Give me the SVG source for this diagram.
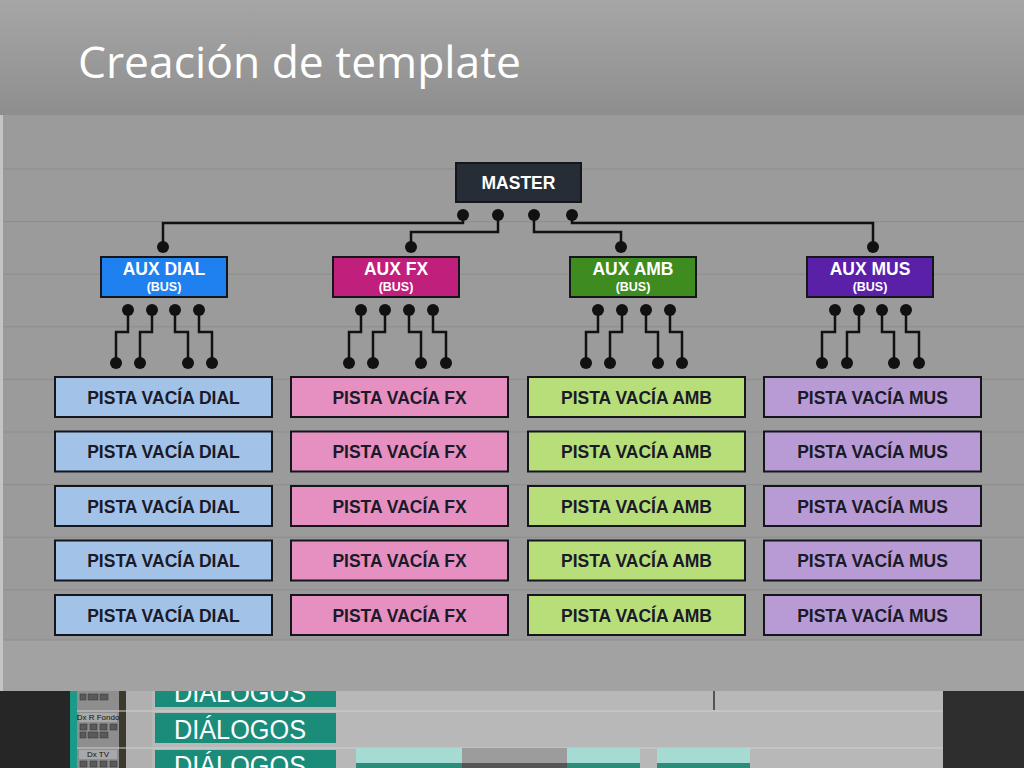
<svg xmlns="http://www.w3.org/2000/svg" width="1024" height="768" viewBox="0 0 1024 768">
<defs>
<linearGradient id="hdr" x1="0" y1="0" x2="0" y2="1">
<stop offset="0" stop-color="#a6a6a6"/>
<stop offset="1" stop-color="#8e8e8e"/>
</linearGradient>
<style>
.wire{fill:none;stroke:#111;stroke-width:2.5;stroke-linejoin:miter}
.dot{fill:#111}
.box{stroke:#15161c;stroke-width:2}
.lbl{font-family:"Liberation Sans",Arial,sans-serif;font-weight:bold;text-anchor:middle}
.pt{font-size:17.5px;fill:#1a1a28}
.aux{font-size:17.5px;fill:#fff}
.bus{font-size:12.5px;fill:#fff}
.grid{stroke:#8d8d8d;stroke-width:1}
.dlg{fill:#1b8c7a}
.dlgt{font-family:"Liberation Sans",Arial,sans-serif;font-size:27px;fill:#fff;text-anchor:middle}
.clip{fill:#a6dbd3}
.wave{fill:#2b8c7c}
.btn{fill:#5a5a5a;stroke:#333;stroke-width:0.5}
.trk{font-family:"Liberation Sans",Arial,sans-serif;font-size:8px;fill:#111}
</style>
</defs>

<!-- DAW screenshot at the bottom -->
<g id="daw">
<rect x="0" y="680" width="1024" height="88" fill="#b8b8b8"/>
<rect x="0" y="680" width="70" height="88" fill="#262626"/>
<rect x="70" y="680" width="7" height="88" fill="#1a9a88"/>
<rect x="77" y="680" width="42" height="88" fill="#8e8e8e"/>
<rect x="119" y="680" width="7" height="88" fill="#3c3a2c"/>
<rect x="126" y="680" width="26" height="88" fill="#b0b0b0"/>
<rect x="943" y="680" width="81" height="88" fill="#2e2e2e"/>
<line x1="77" y1="711" x2="943" y2="711" stroke="#cfcfcf" stroke-width="1"/>
<line x1="77" y1="748" x2="943" y2="748" stroke="#cfcfcf" stroke-width="1"/>
<line x1="714" y1="690" x2="714" y2="710" stroke="#333" stroke-width="1.5"/>
<rect class="dlg" x="155" y="680" width="181" height="27"/>
<text class="dlgt" x="240" y="702" textLength="132" lengthAdjust="spacingAndGlyphs">DIÁLOGOS</text>
<rect class="dlg" x="155" y="713" width="181" height="30"/>
<text class="dlgt" x="240" y="739" textLength="132" lengthAdjust="spacingAndGlyphs">DIÁLOGOS</text>
<rect class="dlg" x="155" y="750" width="181" height="18"/>
<text class="dlgt" x="240" y="775" textLength="132" lengthAdjust="spacingAndGlyphs">DIÁLOGOS</text>
<rect class="clip" x="356" y="748" width="106" height="20"/>
<rect x="462" y="748" width="105" height="20" fill="#9c9c9c"/>
<rect class="clip" x="567" y="748" width="73" height="20"/>
<rect class="clip" x="657" y="748" width="93" height="20"/>
<rect class="wave" x="356" y="763" width="106" height="5"/>
<rect x="462" y="763" width="105" height="5" fill="#555"/>
<rect class="wave" x="567" y="763" width="73" height="5"/>
<rect class="wave" x="657" y="763" width="93" height="5"/>
<rect class="btn" x="80" y="694" width="6" height="6"/>
<rect class="btn" x="88" y="694" width="10" height="6"/>
<rect class="btn" x="100" y="694" width="8" height="6" fill="#b55"/>
<rect x="79" y="713" width="38" height="9" fill="#a8a8a8"/>
<text class="trk" x="98" y="720" text-anchor="middle">Dx R Fondo</text>
<rect class="btn" x="80" y="724" width="7" height="6"/>
<rect class="btn" x="90" y="724" width="7" height="6"/>
<rect class="btn" x="100" y="724" width="7" height="6"/>
<rect class="btn" x="110" y="724" width="7" height="6"/>
<rect class="btn" x="80" y="732" width="6" height="6"/>
<rect class="btn" x="88" y="732" width="10" height="6"/>
<rect class="btn" x="100" y="732" width="8" height="6" fill="#b55"/>
<rect x="79" y="750" width="38" height="9" fill="#a8a8a8"/>
<text class="trk" x="98" y="757" text-anchor="middle">Dx TV</text>
<rect class="btn" x="80" y="761" width="7" height="6"/>
<rect class="btn" x="90" y="761" width="7" height="6"/>
<rect class="btn" x="100" y="761" width="7" height="6"/>
<rect class="btn" x="110" y="761" width="7" height="6"/>
</g>

<!-- diagram background -->
<rect x="0" y="115" width="1024" height="576" fill="#9b9b9b"/>
<rect x="0" y="115" width="3" height="576" fill="#c4c4c4"/>
<rect x="3" y="640" width="1021" height="51" fill="#a2a2a2"/>
<g id="gridlines">
<line class="grid" x1="3" y1="169" x2="1024" y2="169" stroke="#7c7c7c" stroke-width="1.5"/>
<line class="grid" x1="3" y1="221.6" x2="1024" y2="221.6"/>
<line class="grid" x1="3" y1="274.2" x2="1024" y2="274.2"/>
<line class="grid" x1="3" y1="326.8" x2="1024" y2="326.8"/>
<line class="grid" x1="3" y1="379.4" x2="1024" y2="379.4"/>
<line class="grid" x1="3" y1="432" x2="1024" y2="432"/>
<line class="grid" x1="3" y1="484.6" x2="1024" y2="484.6"/>
<line class="grid" x1="3" y1="537.2" x2="1024" y2="537.2"/>
<line class="grid" x1="3" y1="589.8" x2="1024" y2="589.8"/>
<line class="grid" x1="3" y1="640" x2="1024" y2="640"/>
</g>

<!-- header -->
<rect x="0" y="0" width="1024" height="115" fill="url(#hdr)"/>
<text x="78" y="78" font-family="'Open Sans','Liberation Sans',sans-serif" font-size="43" fill="#ffffff" textLength="443" lengthAdjust="spacingAndGlyphs">Creación de template</text>

<!-- connectors -->
<g id="connectors">
<path class="wire" d="M463 215V223H163V247"/>
<path class="wire" d="M498 215V232H411V247"/>
<path class="wire" d="M534 215V232H621V247"/>
<path class="wire" d="M572 215V223H873V247"/>
<circle class="dot" cx="463" cy="215" r="6"/>
<circle class="dot" cx="498" cy="215" r="6"/>
<circle class="dot" cx="534" cy="215" r="6"/>
<circle class="dot" cx="572" cy="215" r="6"/>
<circle class="dot" cx="163" cy="247" r="6"/>
<circle class="dot" cx="411" cy="247" r="6"/>
<circle class="dot" cx="621" cy="247" r="6"/>
<circle class="dot" cx="873" cy="247" r="6"/>

<!-- DIAL fan -->
<path class="wire" d="M128 310V332H116V363M152 310V332H140V363M175 310V332H188V363M199 310V332H212V363"/>
<circle class="dot" cx="128" cy="310" r="6"/><circle class="dot" cx="152" cy="310" r="6"/><circle class="dot" cx="175" cy="310" r="6"/><circle class="dot" cx="199" cy="310" r="6"/>
<circle class="dot" cx="116" cy="363" r="6"/><circle class="dot" cx="140" cy="363" r="6"/><circle class="dot" cx="188" cy="363" r="6"/><circle class="dot" cx="212" cy="363" r="6"/>
<!-- FX fan -->
<path class="wire" d="M361 310V332H349V363M385 310V332H373V363M409 310V332H421V363M433 310V332H446V363"/>
<circle class="dot" cx="361" cy="310" r="6"/><circle class="dot" cx="385" cy="310" r="6"/><circle class="dot" cx="409" cy="310" r="6"/><circle class="dot" cx="433" cy="310" r="6"/>
<circle class="dot" cx="349" cy="363" r="6"/><circle class="dot" cx="373" cy="363" r="6"/><circle class="dot" cx="421" cy="363" r="6"/><circle class="dot" cx="446" cy="363" r="6"/>
<!-- AMB fan -->
<path class="wire" d="M598 310V332H586V363M622 310V332H610V363M646 310V332H658V363M670 310V332H682V363"/>
<circle class="dot" cx="598" cy="310" r="6"/><circle class="dot" cx="622" cy="310" r="6"/><circle class="dot" cx="646" cy="310" r="6"/><circle class="dot" cx="670" cy="310" r="6"/>
<circle class="dot" cx="586" cy="363" r="6"/><circle class="dot" cx="610" cy="363" r="6"/><circle class="dot" cx="658" cy="363" r="6"/><circle class="dot" cx="682" cy="363" r="6"/>
<!-- MUS fan -->
<path class="wire" d="M835 310V332H822V363M859 310V332H847V363M882 310V332H894V363M906 310V332H919V363"/>
<circle class="dot" cx="835" cy="310" r="6"/><circle class="dot" cx="859" cy="310" r="6"/><circle class="dot" cx="882" cy="310" r="6"/><circle class="dot" cx="906" cy="310" r="6"/>
<circle class="dot" cx="822" cy="363" r="6"/><circle class="dot" cx="847" cy="363" r="6"/><circle class="dot" cx="894" cy="363" r="6"/><circle class="dot" cx="919" cy="363" r="6"/>
</g>

<!-- master -->
<g id="master">
<rect class="box" x="456" y="163" width="125" height="39" fill="#262d36"/>
<text class="lbl aux" x="518.5" y="189">MASTER</text>
</g>

<!-- aux buses -->
<g id="aux-dial">
<rect class="box" x="101" y="257" width="126" height="40" fill="#1f80f0"/>
<text class="lbl aux" x="164" y="275">AUX DIAL</text>
<text class="lbl bus" x="164" y="291">(BUS)</text>
</g>
<g id="aux-fx">
<rect class="box" x="333" y="257" width="126" height="40" fill="#c0207c"/>
<text class="lbl aux" x="396" y="275">AUX FX</text>
<text class="lbl bus" x="396" y="291">(BUS)</text>
</g>
<g id="aux-amb">
<rect class="box" x="570" y="257" width="126" height="40" fill="#3e8c1f"/>
<text class="lbl aux" x="633" y="275">AUX AMB</text>
<text class="lbl bus" x="633" y="291">(BUS)</text>
</g>
<g id="aux-mus">
<rect class="box" x="807" y="257" width="126" height="40" fill="#5a20a8"/>
<text class="lbl aux" x="870" y="275">AUX MUS</text>
<text class="lbl bus" x="870" y="291">(BUS)</text>
</g>

<!-- pistas DIAL -->
<g id="dial-1"><rect class="box" x="55" y="377" width="217" height="40" fill="#a3c2e8"/><text class="lbl pt" x="163.5" y="403.5">PISTA VACÍA DIAL</text></g>
<g id="dial-2"><rect class="box" x="55" y="431.5" width="217" height="40" fill="#a3c2e8"/><text class="lbl pt" x="163.5" y="458">PISTA VACÍA DIAL</text></g>
<g id="dial-3"><rect class="box" x="55" y="486" width="217" height="40" fill="#a3c2e8"/><text class="lbl pt" x="163.5" y="512.5">PISTA VACÍA DIAL</text></g>
<g id="dial-4"><rect class="box" x="55" y="540.5" width="217" height="40" fill="#a3c2e8"/><text class="lbl pt" x="163.5" y="567">PISTA VACÍA DIAL</text></g>
<g id="dial-5"><rect class="box" x="55" y="595" width="217" height="40" fill="#a3c2e8"/><text class="lbl pt" x="163.5" y="621.5">PISTA VACÍA DIAL</text></g>

<!-- pistas FX -->
<g id="fx-1"><rect class="box" x="291" y="377" width="217" height="40" fill="#e690c1"/><text class="lbl pt" x="399.5" y="403.5">PISTA VACÍA FX</text></g>
<g id="fx-2"><rect class="box" x="291" y="431.5" width="217" height="40" fill="#e690c1"/><text class="lbl pt" x="399.5" y="458">PISTA VACÍA FX</text></g>
<g id="fx-3"><rect class="box" x="291" y="486" width="217" height="40" fill="#e690c1"/><text class="lbl pt" x="399.5" y="512.5">PISTA VACÍA FX</text></g>
<g id="fx-4"><rect class="box" x="291" y="540.5" width="217" height="40" fill="#e690c1"/><text class="lbl pt" x="399.5" y="567">PISTA VACÍA FX</text></g>
<g id="fx-5"><rect class="box" x="291" y="595" width="217" height="40" fill="#e690c1"/><text class="lbl pt" x="399.5" y="621.5">PISTA VACÍA FX</text></g>

<!-- pistas AMB -->
<g id="amb-1"><rect class="box" x="528" y="377" width="217" height="40" fill="#b8de7a"/><text class="lbl pt" x="636.5" y="403.5">PISTA VACÍA AMB</text></g>
<g id="amb-2"><rect class="box" x="528" y="431.5" width="217" height="40" fill="#b8de7a"/><text class="lbl pt" x="636.5" y="458">PISTA VACÍA AMB</text></g>
<g id="amb-3"><rect class="box" x="528" y="486" width="217" height="40" fill="#b8de7a"/><text class="lbl pt" x="636.5" y="512.5">PISTA VACÍA AMB</text></g>
<g id="amb-4"><rect class="box" x="528" y="540.5" width="217" height="40" fill="#b8de7a"/><text class="lbl pt" x="636.5" y="567">PISTA VACÍA AMB</text></g>
<g id="amb-5"><rect class="box" x="528" y="595" width="217" height="40" fill="#b8de7a"/><text class="lbl pt" x="636.5" y="621.5">PISTA VACÍA AMB</text></g>

<!-- pistas MUS -->
<g id="mus-1"><rect class="box" x="764" y="377" width="217" height="40" fill="#b89bd4"/><text class="lbl pt" x="872.5" y="403.5">PISTA VACÍA MUS</text></g>
<g id="mus-2"><rect class="box" x="764" y="431.5" width="217" height="40" fill="#b89bd4"/><text class="lbl pt" x="872.5" y="458">PISTA VACÍA MUS</text></g>
<g id="mus-3"><rect class="box" x="764" y="486" width="217" height="40" fill="#b89bd4"/><text class="lbl pt" x="872.5" y="512.5">PISTA VACÍA MUS</text></g>
<g id="mus-4"><rect class="box" x="764" y="540.5" width="217" height="40" fill="#b89bd4"/><text class="lbl pt" x="872.5" y="567">PISTA VACÍA MUS</text></g>
<g id="mus-5"><rect class="box" x="764" y="595" width="217" height="40" fill="#b89bd4"/><text class="lbl pt" x="872.5" y="621.5">PISTA VACÍA MUS</text></g>
</svg>
